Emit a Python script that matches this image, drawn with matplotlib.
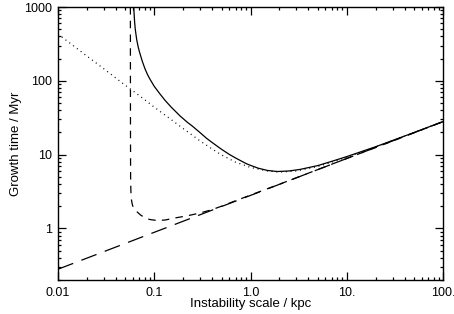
import matplotlib
matplotlib.use('Agg')
import matplotlib.pyplot as plt
from matplotlib.ticker import FixedLocator, LogLocator, NullFormatter

plt.rcParams['font.family'] = ['Liberation Sans', 'DejaVu Sans']

# Values (scale in kpc, time in Myr)
solid_x = [0.0612, 0.0618, 0.0625, 0.0635, 0.0645, 0.0658, 0.068, 0.07, 0.075, 0.0802,
           0.085, 0.09, 0.1, 0.106, 0.115, 0.13, 0.15, 0.185, 0.22, 0.25, 0.3, 0.35,
           0.411, 0.5, 0.6, 0.7, 0.8, 0.913, 1.0, 1.2, 1.5, 1.9, 2.5, 3.27, 5.0, 7.19,
           10.0, 20.0, 50.0, 100.0]
solid_y = [1000, 800, 630, 500, 430, 358, 290, 250, 185, 145,
           122, 106, 84, 76, 66, 54, 44, 33.5, 27.5, 24.2, 19.8, 16.6,
           14.2, 11.8, 10.1, 9.0, 8.2, 7.5, 7.15, 6.55, 6.1, 5.9, 6.0, 6.3, 7.1, 8.2,
           9.4, 12.8, 19.9, 28.0]

dotted_x = [0.01, 0.02, 0.03, 0.05, 0.07, 0.1, 0.15, 0.2, 0.3, 0.4, 0.5, 0.7,
            1.0, 1.5, 2.0, 3.0, 5.0, 7.0, 10.0, 20.0, 50.0, 100.0]
dotted_y = [430, 216, 145, 87, 63, 44, 29.8, 22.5, 15.3, 11.9, 9.9, 7.9,
            6.7, 6.0, 5.8, 6.0, 6.9, 7.9, 9.2, 12.7, 19.9, 28.0]

short_x = [0.0565, 0.0566, 0.0568, 0.0571, 0.0575, 0.0582, 0.0595, 0.0615, 0.064, 0.0662,
           0.072, 0.0802, 0.09, 0.107, 0.13, 0.172, 0.22, 0.3, 0.4, 0.5, 0.7, 1.0, 2.0,
           5.0, 10.0, 30.0, 100.0]
short_y = [1000, 30, 5.0, 3.4, 2.75, 2.35, 2.05, 1.86, 1.75, 1.68,
           1.52, 1.39, 1.32, 1.28, 1.3, 1.4, 1.48, 1.62, 1.8, 2.0, 2.37, 2.83, 3.97,
           6.27, 8.86, 15.3, 28.0]

long_x = [0.01, 100.0]
long_y = [0.28, 28.0]

x_ticks = [0.01, 0.1, 1.0, 10.0, 100.0]
x_labels = ['0.01', '0.1', '1.0', '10.', '100.']
y_ticks = [1, 10, 100, 1000]
y_labels = ['1', '10', '100', '1000']

fig = plt.figure(figsize=(4.54, 3.14), dpi=100)
ax = fig.add_axes([58 / 454, 1 - 280 / 314, 385 / 454, 273 / 314])

lw = 0.9
ax.plot(solid_x, solid_y, color='black', lw=lw)
ax.plot(dotted_x, dotted_y, color='black', lw=lw, linestyle=(0, (0.8, 3)))
ax.plot(short_x, short_y, color='black', lw=lw, linestyle=(0, (6, 5)))
ax.plot(long_x, long_y, color='black', lw=lw, linestyle=(0, (13, 7)))

ax.set_xscale('log')
ax.set_yscale('log')
ax.set_xlim(0.01, 100)
ax.set_ylim(0.2, 1000)

ax.xaxis.set_major_locator(FixedLocator(x_ticks))
ax.set_xticklabels(x_labels)
ax.yaxis.set_major_locator(FixedLocator(y_ticks))
ax.set_yticklabels(y_labels)
ax.xaxis.set_minor_locator(LogLocator(base=10, subs=range(2, 10), numticks=20))
ax.yaxis.set_minor_locator(LogLocator(base=10, subs=range(2, 10), numticks=20))
ax.xaxis.set_minor_formatter(NullFormatter())
ax.yaxis.set_minor_formatter(NullFormatter())

ax.tick_params(which='both', direction='in', top=True, right=True, width=0.9, labelsize=9)
ax.tick_params(which='major', length=5.5)
ax.tick_params(which='minor', length=2.5)
ax.tick_params(axis='x', pad=5)
ax.tick_params(axis='y', pad=4)
for s in ax.spines.values():
    s.set_linewidth(1.0)

ax.set_xlabel('Instability scale / kpc', fontsize=9.5, labelpad=-0.5)
ax.set_ylabel('Growth time / Myr', fontsize=9.5, labelpad=2)

fig.savefig('out.png', dpi=100)
